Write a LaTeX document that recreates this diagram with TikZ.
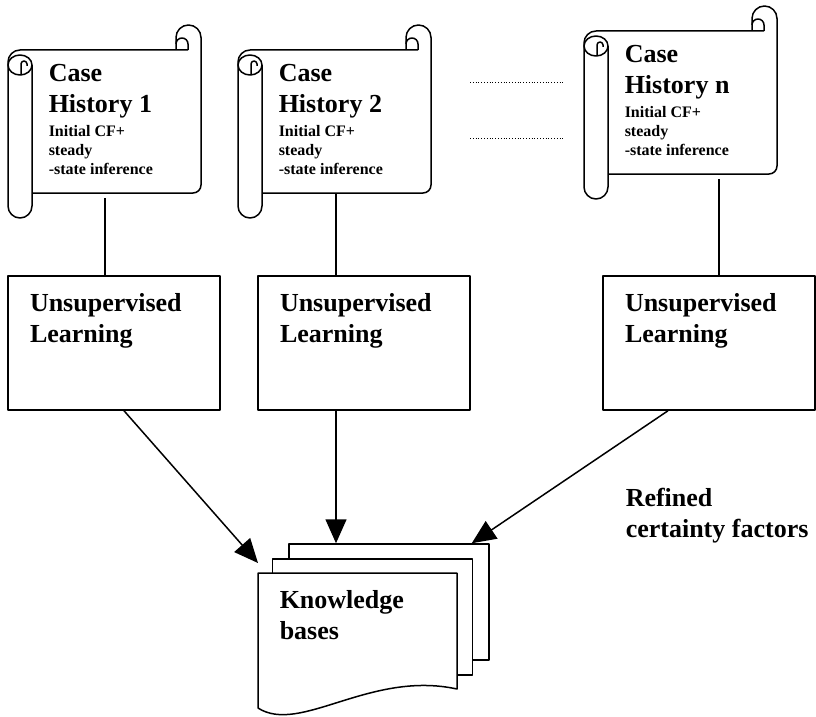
\documentclass[tikz,border=0pt]{standalone}
\usepackage{fontspec}
\setmainfont{Liberation Serif}
\usetikzlibrary{arrows.meta}

\begin{document}
\begin{tikzpicture}[x=1pt, y=-1pt, line width=1.5pt, line join=round,
    scrollsheet/.pic={
      % rolled left edge
      \draw (188,50) -- (20,50) arc[start angle=270,end angle=180,radius=12]
        -- (8,206) arc[start angle=180,end angle=0,radius=12] -- (32,65);
      \draw (20,65) ellipse[x radius=12,y radius=10];
      \draw (21,75) -- (21,64) arc[start angle=180,end angle=360,radius=3] -- (27,66);
      % curl at the top right
      \draw (176,50) -- (176,37.5) arc[start angle=180,end angle=360,radius=12.5]
        -- (201,185) arc[start angle=0,end angle=90,radius=8] -- (32,193);
      \draw (188,50) -- (188,44) arc[start angle=0,end angle=-180,radius=6];
    },
    casetitle/.style={anchor=north west, inner sep=0, align=left,
      font=\bfseries\fontsize{26}{31}\selectfont},
    casenote/.style={anchor=north west, inner sep=0, align=left,
      font=\bfseries\fontsize{16}{19}\selectfont},
    learnbox/.style={draw, minimum width=212, minimum height=134, inner sep=0},
    page/.style={draw, fill=white, minimum width=200, minimum height=116, inner sep=0},
    arr/.style={-{Triangle[length=24pt,width=21pt]}}]
  \useasboundingbox (0,0) rectangle (816,717);

  % case histories
  \pic at (0,0) {scrollsheet};
  \pic at (230,0) {scrollsheet};
  \pic at (576,-19) {scrollsheet};
  \node[casetitle] (hist1) at (48,64) {Case\\History 1};
  \node[casenote] (note1) at (48,125) {Initial CF+\\steady\\-state inference};
  \node[casetitle] (hist2) at (278,64) {Case\\History 2};
  \node[casenote] (note2) at (278,125) {Initial CF+\\steady\\-state inference};
  \node[casetitle] (histn) at (624,45) {Case\\History n};
  \node[casenote] (noten) at (624,106) {Initial CF+\\steady\\-state inference};
  \draw[line width=0.8pt, dash pattern=on 0.8pt off 2pt] (470,82) -- (563,82);
  \draw[line width=0.8pt, dash pattern=on 0.8pt off 2pt] (470,138) -- (563,138);

  % learning boxes
  \coordinate (foot1) at (105,198);
  \coordinate (foot2) at (336,194);
  \coordinate (footn) at (719,179);
  \node[learnbox] (learn1) at (114,343) {};
  \node[learnbox] (learn2) at (364,343) {};
  \node[learnbox] (learnn) at (709,343) {};
  \node[casetitle] (text1) at ([shift={(22,17)}]learn1.north west) {Unsupervised\\Learning};
  \node[casetitle] (text2) at ([shift={(22,17)}]learn2.north west) {Unsupervised\\Learning};
  \node[casetitle] (textn) at ([shift={(22,17)}]learnn.north west) {Unsupervised\\Learning};
  \draw (foot1) -- (foot1 |- learn1.north);
  \draw (foot2) -- (foot2 |- learn2.north);
  \draw (footn) -- (footn |- learnn.north);

  % knowledge bases
  \node[page] (kb3) at (389,602) {};
  \node[page] (kb2) at (372.5,617) {};
  \coordinate (kb1) at (258,573);
  \draw[fill=white] (kb1) -- (457,573) -- (457,689)
    .. controls (370,670) and (300,735) .. (258,708) -- cycle;
  \node[casetitle] (kbtext) at ([shift={(21,17)}]kb1) {Knowledge\\bases};
  \node[casetitle] (refined) at (625,487) {Refined\\certainty factors};

  \draw[arr] ([xshift=10pt]learn1.south) -- ([yshift=10pt]kb1);
  \draw[arr] (foot2 |- learn2.south) -- (foot2 |- kb3.north);
  \draw[arr] ([xshift=-41pt]learnn.south) -- ([xshift=-18pt]kb3.north east);
\end{tikzpicture}
\end{document}
